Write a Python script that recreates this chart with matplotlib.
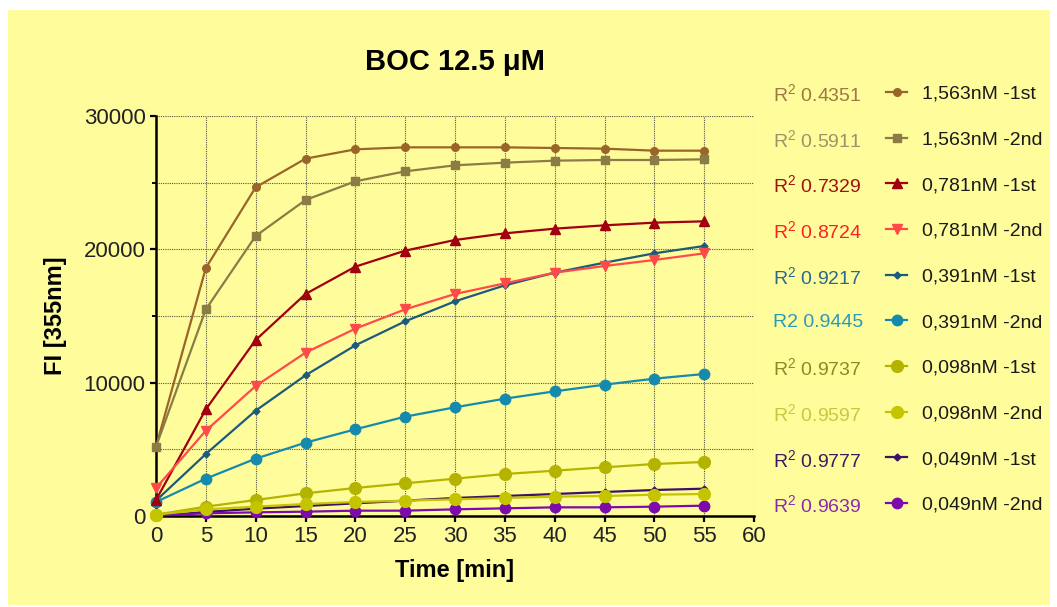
import numpy as np
import matplotlib.pyplot as plt
from matplotlib.patches import Rectangle
from matplotlib.ticker import MultipleLocator

plt.rcParams['font.family'] = ['Liberation Sans', 'DejaVu Sans']
plt.rcParams['mathtext.fontset'] = 'custom'
plt.rcParams['mathtext.rm'] = 'Liberation Sans'
plt.rcParams['mathtext.it'] = 'Liberation Sans'

# datos
time_min = [0, 5, 10, 15, 20, 25, 30, 35, 40, 45, 50, 55]

c1563_1st = [5200, 18600, 24650, 26800, 27500, 27650, 27650, 27650, 27600, 27550, 27400, 27400]
c1563_2nd = [5200, 15500, 21000, 23700, 25100, 25850, 26300, 26500, 26650, 26700, 26700, 26750]
c781_1st = [1200, 8000, 13200, 16650, 18700, 19900, 20700, 21200, 21550, 21800, 22000, 22100]
c781_2nd = [2100, 6400, 9750, 12250, 14050, 15500, 16650, 17450, 18250, 18750, 19200, 19700]
c391_1st = [1150, 4650, 7900, 10550, 12800, 14600, 16100, 17300, 18250, 19000, 19700, 20250]
c391_2nd = [1050, 2800, 4300, 5500, 6500, 7450, 8150, 8800, 9350, 9850, 10300, 10650]
c098_1st = [100, 700, 1200, 1700, 2100, 2450, 2800, 3150, 3400, 3650, 3900, 4050]
c098_2nd = [100, 500, 700, 900, 1050, 1150, 1250, 1350, 1450, 1500, 1600, 1650]
c049_1st = [0, 300, 550, 750, 950, 1150, 1350, 1500, 1650, 1800, 1950, 2050]
c049_2nd = [50, 200, 275, 325, 400, 400, 500, 575, 650, 650, 700, 775]

series = [c1563_1st, c1563_2nd, c781_1st, c781_2nd, c391_1st,
          c391_2nd, c098_1st, c098_2nd, c049_1st, c049_2nd]
labels = ['1,563nM -1st', '1,563nM -2nd', '0,781nM -1st', '0,781nM -2nd',
          '0,391nM -1st', '0,391nM -2nd', '0,098nM -1st', '0,098nM -2nd',
          '0,049nM -1st', '0,049nM -2nd']
r2_text = ['R$^2$ 0.4351', 'R$^2$ 0.5911', 'R$^2$ 0.7329', 'R$^2$ 0.8724',
           'R$^2$ 0.9217', 'R2 0.9445', 'R$^2$ 0.9737', 'R$^2$ 0.9597',
           'R$^2$ 0.9777', 'R$^2$ 0.9639']

colores = ['#9B6428', '#8C7B45', '#A00010', '#FF4A4A', '#1C5B7C',
           '#168AAC', '#B4B400', '#C4C400', '#3D1163', '#7D0AAA']
colores_r2 = ['#A07644', '#9C9468', '#A01010', '#FF2020', '#2A6A8A',
              '#2A9AB8', '#8A8A20', '#C8C840', '#3C1A60', '#8A2AB0']
marcadores = ['o', 's', '^', 'v', 'D', 'o', 'o', 'o', 'D', 'o']
tamanos = [5.5, 6, 6.5, 6.5, 3.5, 7.5, 8.5, 8.5, 3.5, 7.5]
# orden de dibujo (los de abajo primero)
orden = [8, 9, 4, 5, 6, 7, 0, 1, 2, 3]

fig = plt.figure(figsize=(10.57, 6.07), dpi=100)
fig.patch.set_facecolor('white')
fondo = Rectangle((8 / 1057, 1 - 605 / 607), (1050 - 8) / 1057, (605 - 10) / 607,
                  transform=fig.transFigure, facecolor='#FFFC9C',
                  edgecolor='none', zorder=-10)
fig.patches.append(fondo)

ax = fig.add_axes([156 / 1057, 1 - 516 / 607, (754 - 156) / 1057, 400 / 607])
ax.set_facecolor('none')

lineas = [None] * len(series)
for i in orden:
    ln, = ax.plot(time_min, series[i], marker=marcadores[i], color=colores[i],
                  markersize=tamanos[i], markeredgecolor=colores[i],
                  linewidth=1.6, label=labels[i], clip_on=False, zorder=3)
    lineas[i] = ln

ax.set_xlim(0, 60)
ax.set_ylim(0, 30000)
ax.xaxis.set_major_locator(MultipleLocator(5))
ax.yaxis.set_major_locator(MultipleLocator(10000))
ax.yaxis.set_minor_locator(MultipleLocator(5000))
ax.grid(True, which='both', color='#555544', linestyle=(0, (1, 1)), linewidth=0.8)
ax.set_axisbelow(True)

for s in ['top', 'right']:
    ax.spines[s].set_visible(False)
for s in ['left', 'bottom']:
    ax.spines[s].set_linewidth(1.8)
    ax.spines[s].set_color('black')

ax.tick_params(axis='both', which='major', labelsize=16, length=4.5, width=1.6,
               direction='out', colors='black', labelcolor='#222222', pad=3)
ax.tick_params(axis='y', which='minor', length=3, width=1.4)

ax.set_xlabel('Time [min]', fontsize=17, fontweight='bold', labelpad=8)
ax.set_ylabel('FI [355nm]', fontsize=17, fontweight='bold', labelpad=12)

fig.text(455 / 1057, 1 - 62 / 607, 'BOC 12.5 \u03bcM', fontsize=21,
         fontweight='bold', ha='center', va='center')

leg = fig.legend(lineas, labels, loc='upper left',
                 bbox_to_anchor=(886 / 1057, 1 - 85 / 607), frameon=False,
                 fontsize=14, handlelength=1.1, handletextpad=0.75,
                 labelspacing=1.445, borderpad=0, borderaxespad=0)
for t in leg.get_texts():
    t.set_color('#1a1a1a')

# R2 alineados con cada fila de la leyenda
fig.canvas.draw()
inv = fig.transFigure.inverted()
for i, t in enumerate(leg.get_texts()):
    bb = t.get_window_extent()
    yc = inv.transform((0, (bb.y0 + bb.y1) / 2))[1]
    fig.text(773 / 1057, yc, r2_text[i], color=colores_r2[i], fontsize=14,
             ha='left', va='center')

plt.savefig('out.png', dpi=100)
